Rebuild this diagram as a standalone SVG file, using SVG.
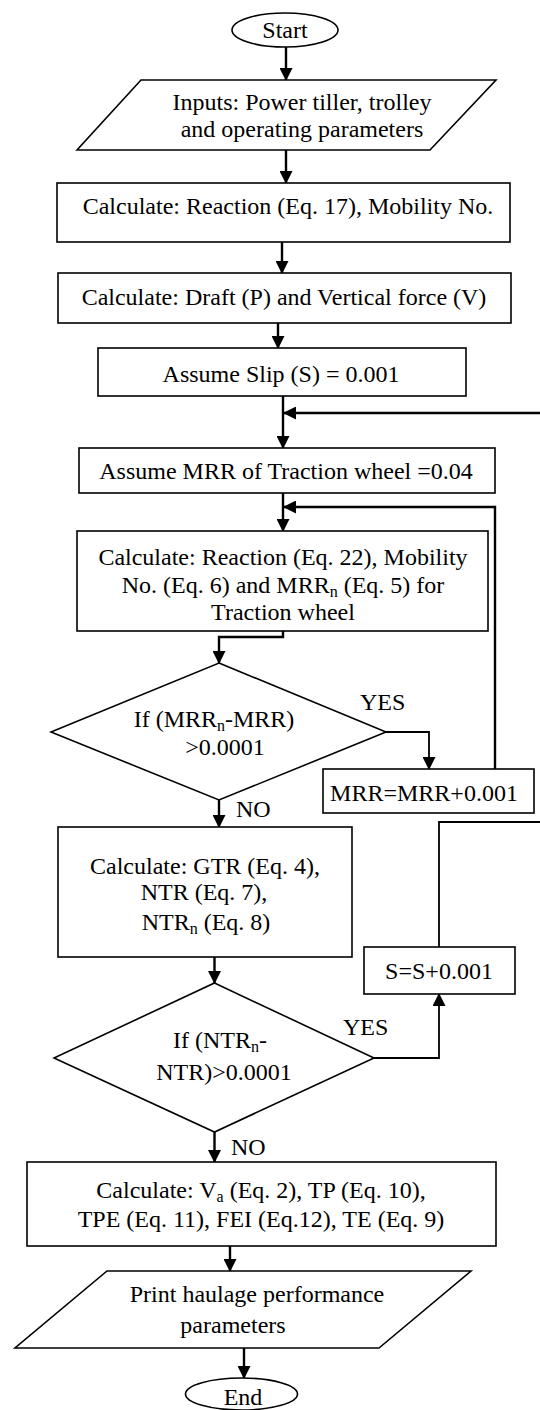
<svg xmlns="http://www.w3.org/2000/svg" width="540" height="1410" viewBox="0 0 540 1410">
<style>
.s{fill:#fff;stroke:#000;stroke-width:1.6}
.t{font-family:"Liberation Serif","Times New Roman",serif;font-size:24px;fill:#000;text-anchor:middle}
.l{font-family:"Liberation Serif","Times New Roman",serif;font-size:24px;fill:#000}
.c{fill:none;stroke:#000;stroke-width:2.4}
.c2{fill:none;stroke:#000;stroke-width:1.8}
.sub{font-size:16px}
</style>
<defs>
<marker id="a" markerUnits="userSpaceOnUse" markerWidth="13" markerHeight="13" refX="12" refY="6.5" orient="auto">
<path d="M0,0 L13,6.5 L0,13 z" fill="#000"/>
</marker>
</defs>
<rect width="540" height="1410" fill="#fff"/>
<g id="connectors">
<path class="c" d="M286,47 V80" marker-end="url(#a)"/>
<path class="c" d="M286,150 V183" marker-end="url(#a)"/>
<path class="c" d="M282,242 V273" marker-end="url(#a)"/>
<path class="c" d="M278,323 V348" marker-end="url(#a)"/>
<path class="c" d="M283,396 V448" marker-end="url(#a)"/>
<path class="c" d="M541,413 H284" marker-end="url(#a)"/>
<path class="c" d="M283,493 V531" marker-end="url(#a)"/>
<path class="c" d="M495,769 V507 H284" marker-end="url(#a)"/>
<path class="c" d="M283,631 V637 H219 V663" marker-end="url(#a)"/>
<path class="c2" d="M386,732 H429 V769" marker-end="url(#a)"/>
<path class="c" d="M219,800 V827" marker-end="url(#a)"/>
<path class="c" d="M214.5,957 V983" marker-end="url(#a)"/>
<path class="c2" d="M374,1058 H439 V994" marker-end="url(#a)"/>
<path class="c2" d="M439,947 V822 H541"/>
<path class="c" d="M214.5,1132 V1162" marker-end="url(#a)"/>
<path class="c" d="M230,1246 V1271" marker-end="url(#a)"/>
<path class="c" d="M244,1348 V1378" marker-end="url(#a)"/>
</g>
<g id="start">
<ellipse class="s" cx="285" cy="30" rx="53" ry="17"/>
<text class="t" x="285" y="38">Start</text>
</g>
<g id="inputs">
<polygon class="s" points="141,80 496,80 430,150 77,150"/>
<text class="t" x="302" y="110">Inputs: Power tiller, trolley</text>
<text class="t" x="302" y="137">and operating parameters</text>
</g>
<g id="calc1">
<rect class="s" x="57" y="183" width="453" height="59"/>
<text class="t" x="288" y="214">Calculate: Reaction (Eq. 17), Mobility No.</text>
</g>
<g id="calc2">
<rect class="s" x="58" y="273" width="453" height="50"/>
<text class="t" x="284" y="305">Calculate: Draft (P) and Vertical force (V)</text>
</g>
<g id="slip">
<rect class="s" x="98" y="348" width="368" height="48"/>
<text class="t" x="281" y="382">Assume Slip (S) = 0.001</text>
</g>
<g id="mrr0">
<rect class="s" x="79" y="448" width="416" height="45"/>
<text class="t" x="286" y="479">Assume MRR of Traction wheel =0.04</text>
</g>
<g id="calc3">
<rect class="s" x="77" y="531" width="411" height="100"/>
<text class="t" x="283" y="565">Calculate: Reaction (Eq. 22), Mobility</text>
<text class="t" x="283" y="593">No. (Eq. 6) and MRR<tspan class="sub" dy="4">n</tspan><tspan dy="-4"> (Eq. 5) for</tspan></text>
<text class="t" x="283" y="620">Traction wheel</text>
</g>
<g id="dec1">
<polygon class="s" points="219,663 386,732 219,800 51,732"/>
<text class="t" x="214" y="727">If (MRR<tspan class="sub" dy="4">n</tspan><tspan dy="-4">-MRR)</tspan></text>
<text class="t" x="225" y="755">&gt;0.0001</text>
<text class="l" x="360" y="710">YES</text>
<text class="l" x="236" y="817">NO</text>
</g>
<g id="mrrinc">
<rect class="s" x="323" y="769" width="211" height="44"/>
<text class="t" x="424" y="801">MRR=MRR+0.001</text>
</g>
<g id="calc4">
<rect class="s" x="58" y="827" width="294" height="130"/>
<text class="t" x="205" y="874">Calculate: GTR (Eq. 4),</text>
<text class="t" x="204" y="900">NTR (Eq. 7),</text>
<text class="t" x="206" y="930">NTR<tspan class="sub" dy="4">n</tspan><tspan dy="-4"> (Eq. 8)</tspan></text>
</g>
<g id="sinc">
<rect class="s" x="364" y="947" width="151" height="47"/>
<text class="t" x="439" y="979">S=S+0.001</text>
</g>
<g id="dec2">
<polygon class="s" points="214.5,983 374,1058 214.5,1132 54,1058"/>
<text class="t" x="220" y="1048">If (NTR<tspan class="sub" dy="4">n</tspan><tspan dy="-4">-</tspan></text>
<text class="t" x="224" y="1080">NTR)&gt;0.0001</text>
<text class="l" x="343" y="1035">YES</text>
<text class="l" x="231" y="1155">NO</text>
</g>
<g id="calc5">
<rect class="s" x="27" y="1162" width="469" height="84"/>
<text class="t" x="261" y="1198">Calculate: V<tspan class="sub" dy="4">a</tspan><tspan dy="-4"> (Eq. 2), TP (Eq. 10),</tspan></text>
<text class="t" x="261" y="1227">TPE (Eq. 11), FEI (Eq.12), TE (Eq. 9)</text>
</g>
<g id="print">
<polygon class="s" points="107,1271 471,1271 379,1348 15,1348"/>
<text class="t" x="257" y="1302">Print haulage performance</text>
<text class="t" x="233" y="1333">parameters</text>
</g>
<g id="end">
<ellipse class="s" cx="241.5" cy="1394" rx="56" ry="16"/>
<text class="t" x="243" y="1405">End</text>
</g>
</svg>
